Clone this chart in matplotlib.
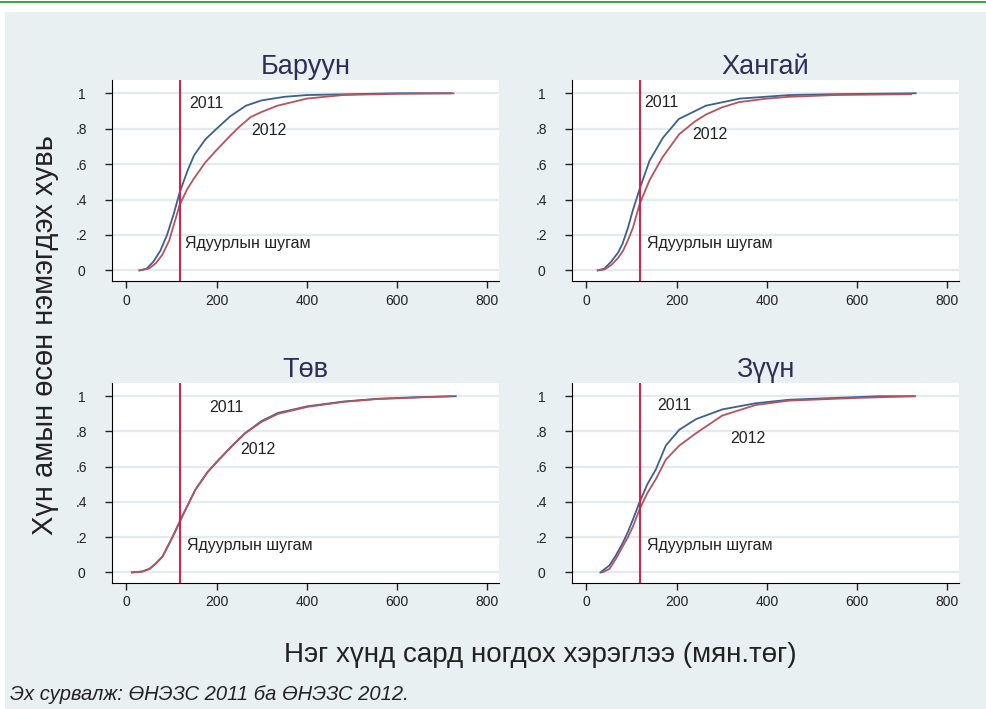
import numpy as np
import matplotlib.pyplot as plt
from matplotlib.patches import Rectangle

plt.rcParams['font.family'] = ['Liberation Sans', 'DejaVu Sans']

# region names (panel titles)
regions = ["Баруун", "Хангай", "Төв", "Зүүн"]
poverty_line = [118, 118, 118, 118]

# cumulative share of population, 2011
x2011 = [
    [30, 45, 60, 75, 90, 105, 118, 135, 150, 175, 200, 230, 265, 300, 350, 400, 500, 600, 720],
    [25, 40, 55, 70, 80, 92, 103, 118, 140, 170, 205, 265, 340, 450, 550, 730],
    [12, 35, 51, 65, 80, 102, 124, 153, 180, 205, 235, 263, 300, 336, 402, 482, 555, 650, 730],
    [31, 51, 66, 81, 92, 103, 118, 135, 154, 176, 206, 243, 301, 375, 449, 550, 650, 728],
]
y2011 = [
    [0, 0.01, 0.05, 0.11, 0.2, 0.32, 0.44, 0.56, 0.65, 0.74, 0.8, 0.87, 0.93, 0.96, 0.98, 0.99, 0.995, 1.0, 1.0],
    [0, 0.01, 0.05, 0.1, 0.15, 0.24, 0.34, 0.46, 0.62, 0.75, 0.855, 0.93, 0.97, 0.99, 0.995, 1.0],
    [0, 0.005, 0.02, 0.05, 0.09, 0.2, 0.32, 0.47, 0.57, 0.64, 0.72, 0.79, 0.86, 0.905, 0.943, 0.97, 0.985, 0.995, 1.0],
    [0, 0.04, 0.1, 0.17, 0.23, 0.3, 0.4, 0.5, 0.585, 0.72, 0.81, 0.87, 0.925, 0.96, 0.98, 0.99, 1.0, 1.0],
]

# cumulative share of population, 2012
x2012 = [
    [28, 50, 65, 80, 95, 110, 118, 135, 150, 175, 200, 230, 250, 275, 300, 335, 400, 480, 600, 725],
    [25, 40, 55, 70, 81, 92, 103, 118, 140, 169, 206, 240, 265, 300, 338, 400, 449, 550, 720],
    [12, 35, 51, 65, 80, 102, 124, 153, 180, 205, 235, 263, 300, 336, 402, 482, 555, 650, 720],
    [35, 51, 66, 81, 92, 103, 118, 135, 154, 176, 206, 243, 301, 375, 449, 596, 728],
]
y2012 = [
    [0, 0.01, 0.04, 0.09, 0.17, 0.3, 0.37, 0.46, 0.52, 0.61, 0.68, 0.76, 0.81, 0.865, 0.895, 0.93, 0.97, 0.99, 0.997, 1.0],
    [0, 0.005, 0.03, 0.07, 0.11, 0.17, 0.24, 0.375, 0.51, 0.64, 0.77, 0.84, 0.88, 0.92, 0.95, 0.97, 0.98, 0.99, 0.995],
    [0, 0.005, 0.02, 0.05, 0.09, 0.2, 0.32, 0.47, 0.57, 0.64, 0.72, 0.79, 0.855, 0.9, 0.94, 0.968, 0.984, 0.993, 1.0],
    [0, 0.02, 0.08, 0.15, 0.2, 0.26, 0.36, 0.45, 0.53, 0.64, 0.72, 0.79, 0.89, 0.95, 0.975, 0.99, 1.0],
]

# label positions (data coords) for "2011" / "2012" / poverty line text
lab2011 = [(140, 0.94), (129, 0.95), (183, 0.935), (158, 0.95)]
lab2012 = [(277, 0.79), (235, 0.77), (252, 0.70), (318, 0.76)]
labpov = [(129, 0.15), (134, 0.15), (135, 0.15), (134, 0.15)]

xticks = [0, 200, 400, 600, 800]
yticks = [0, 0.2, 0.4, 0.6, 0.8, 1.0]
ytick_labels = ["0", ".2", ".4", ".6", ".8", "1"]

BLUE = "#3b6190"
RED = "#b5535f"
POV = "#d4234b"
BG = "#e9f0f2"
GRID = "#e3ebee"

W, H = 986, 709
fig = plt.figure(figsize=(W / 100, H / 100), dpi=100)
fig.patch.set_facecolor("white")

# pale panel background and green rule at top
fig.patches.append(Rectangle((5 / W, 0), 1 - 5 / W, 1 - 12 / H, transform=fig.transFigure,
                             facecolor=BG, edgecolor="none", zorder=-2))
fig.patches.append(Rectangle((0, 1 - 3 / H), 1, 2.5 / H, transform=fig.transFigure,
                             facecolor="#3aaa3c", edgecolor="none", zorder=-2))

# axes boxes in pixels: left, top, right, bottom
boxes = [(112, 80, 499, 281), (572, 80, 959, 281),
         (112, 383, 499, 583), (572, 383, 959, 583)]

for i in range(4):
    l, t, r, b = boxes[i]
    ax = fig.add_axes([l / W, 1 - b / H, (r - l) / W, (b - t) / H])
    ax.set_zorder(1)
    ax.set_facecolor("white")
    ax.set_xlim(-32, 826)
    ax.set_ylim(-0.06, 1.075)
    for y in yticks:
        ax.axhline(y, color=GRID, lw=1.6, zorder=1)
    ax.plot(x2011[i], y2011[i], color=BLUE, lw=1.3, zorder=3)
    ax.plot(x2012[i], y2012[i], color=RED, lw=1.3, zorder=3)
    ax.axvline(poverty_line[i], color=POV, lw=1.5, zorder=4)
    ax.text(lab2011[i][0], lab2011[i][1], "2011", fontsize=11.5, color="#222222", va="center")
    ax.text(lab2012[i][0], lab2012[i][1], "2012", fontsize=11.5, color="#222222", va="center")
    ax.text(labpov[i][0], labpov[i][1], "Ядуурлын шугам", fontsize=11.5, color="#222222", va="center")
    ax.set_xticks(xticks)
    ax.set_yticks(yticks)
    ax.set_yticklabels(ytick_labels)
    ax.tick_params(axis="x", direction="out", length=5, width=1, pad=4, labelsize=10, colors="#222222")
    ax.tick_params(axis="y", direction="out", length=5, width=1, pad=17, labelsize=10, colors="#222222")
    for lab in ax.get_yticklabels():
        lab.set_horizontalalignment("center")
    ax.spines["top"].set_visible(False)
    ax.spines["right"].set_visible(False)
    ax.spines["left"].set_color("black")
    ax.spines["bottom"].set_color("black")
    ax.set_title(regions[i], fontsize=19.5, color="#2e2e55", pad=3)

fig.text(540 / W, 1 - 655 / H, "Нэг хүнд сард ногдох хэрэглээ (мян.төг)", fontsize=20,
         color="#222222", ha="center", va="center")
fig.text(45 / W, 1 - 335 / H, "Хүн амын өсөн нэмэгдэх хувь", fontsize=21,
         color="#222222", ha="center", va="center", rotation=90)
fig.text(10 / W, 1 - 695 / H, "Эх сурвалж: ӨНЭЗС 2011 ба ӨНЭЗС 2012.", fontsize=14.5,
         style="italic", color="#222222", ha="left", va="center")

fig.savefig("out.png", dpi=100)
